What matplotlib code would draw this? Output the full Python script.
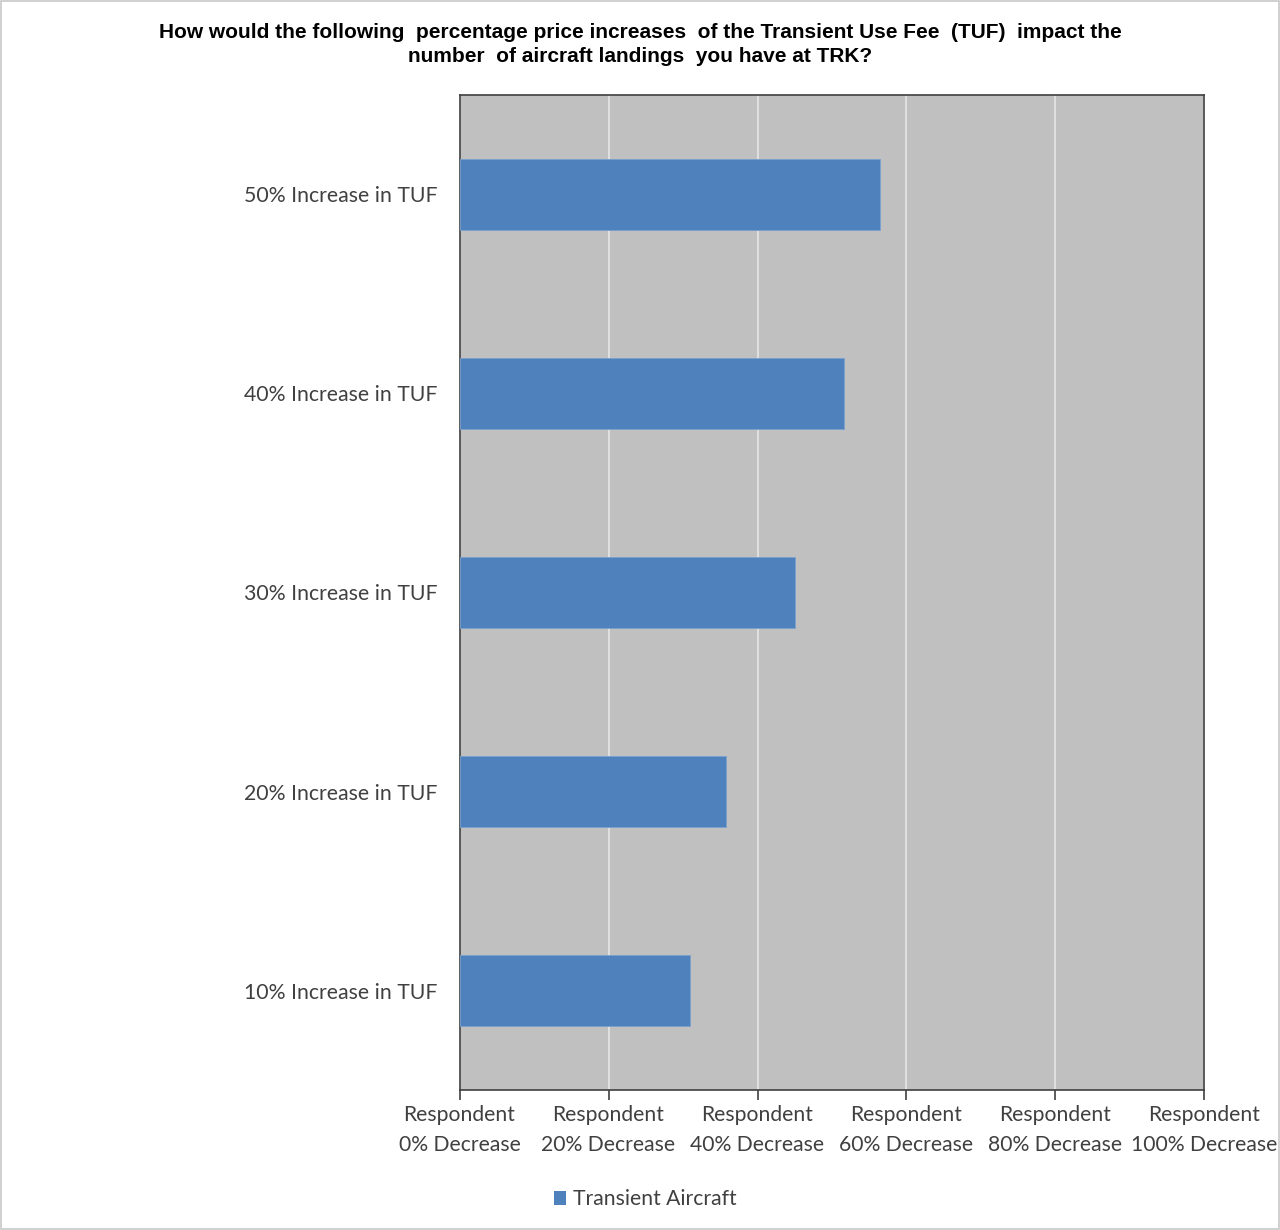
import matplotlib.pyplot as plt
from matplotlib.patches import Patch

categories = ['10% Increase in TUF', '20% Increase in TUF', '30% Increase in TUF',
              '40% Increase in TUF', '50% Increase in TUF']
transient_aircraft = [30.9, 35.8, 45.0, 51.6, 56.4]
x_ticks = [0, 20, 40, 60, 80, 100]
x_tick_labels = ['Respondent\n0% Decrease', 'Respondent\n20% Decrease', 'Respondent\n40% Decrease',
                 'Respondent\n60% Decrease', 'Respondent\n80% Decrease', 'Respondent\n100% Decrease']

bar_color = '#4f81bd'
label_font = 'Lato'

fig = plt.figure(figsize=(12.8, 12.3), dpi=100)
fig.patches.append(plt.Rectangle((0.001, 0.001), 0.998, 0.998, transform=fig.transFigure,
                                 fill=False, edgecolor='#c8c8c8', linewidth=1.2))
ax = fig.add_axes([0.359, 0.1138, 0.582, 0.809])
ax.set_facecolor('#c0c0c0')

ax.barh(range(len(categories)), transient_aircraft, height=0.36, color=bar_color,
        edgecolor='#7aa0cf', linewidth=0.6, zorder=3)

ax.set_xlim(0, 100)
ax.set_ylim(-0.5, len(categories) - 0.5)
ax.set_xticks(x_ticks)
ax.set_xticklabels(x_tick_labels, fontsize=15.2, family=label_font, color='#404040',
                   linespacing=1.6)
ax.set_yticks(range(len(categories)))
ax.set_yticklabels(categories, fontsize=15.3, family=label_font, color='#404040')
ax.tick_params(axis='y', length=0, pad=16)
ax.tick_params(axis='x', length=7, width=1.2, color='#404040', pad=4)
ax.grid(axis='x', color='#e6e6e6', linewidth=1.2, zorder=1)
for side in ['top', 'right', 'left', 'bottom']:
    ax.spines[side].set_color('#404040')
    ax.spines[side].set_linewidth(1.2)

fig.text(0.5, 0.964, 'How would the following  percentage price increases  of the Transient Use Fee  (TUF)  impact the\n'
         'number  of aircraft landings  you have at TRK?',
         ha='center', va='center', fontsize=15, fontweight='bold', family='Liberation Sans',
         linespacing=1.35)

handles = [Patch(facecolor=bar_color, edgecolor='none', label='Transient Aircraft')]
fig.legend(handles=handles, loc='center', bbox_to_anchor=(0.504, 0.025), frameon=False,
           prop={'family': label_font, 'size': 15.2}, handlelength=0.6, handleheight=0.6,
           handletextpad=0.3, labelcolor='#404040')

fig.savefig('out.png', dpi=100)
plt.close(fig)
